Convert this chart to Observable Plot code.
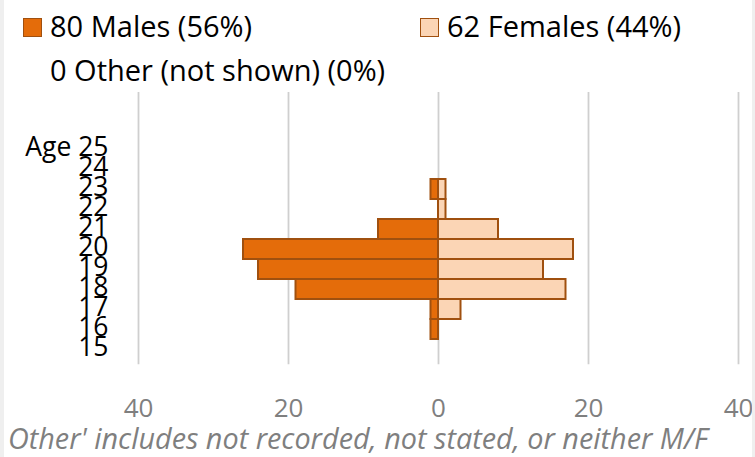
<!DOCTYPE html>
<html>
<head>
<meta charset="utf-8">
<script src="https://cdn.jsdelivr.net/npm/d3@7"></script>
<script src="https://cdn.jsdelivr.net/npm/@observablehq/plot@0.6"></script>
<style>
  html, body { margin: 0; padding: 0; background: #fff; }
  #wrap { position: relative; width: 755px; height: 457px; overflow: hidden; font-family: "Open Sans", sans-serif; }
  #chart { position: absolute; left: 0; top: 0; }
  .lg { position: absolute; font-size: 29px; line-height: 40px; color: #000; white-space: nowrap; }
  .sw { position: absolute; width: 17px; height: 17px; border: 1.5px solid #A0500F; }
  #cap { position: absolute; left: 8px; top: 418px; font-size: 28.8px; line-height: 40px; font-style: italic; color: #7f7f7f; white-space: nowrap; }
  .edge { position: absolute; top: 0; height: 457px; background: #efefef; }
</style>
</head>
<body>
<div id="wrap">
  <div id="chart"></div>
  <div class="edge" style="left:0;width:4px"></div>
  <div class="edge" style="left:752px;width:3px"></div>
  <div class="sw" style="left:23px;top:18px;background:#E46C0A"></div>
  <div class="lg" id="lgM" style="left:50px;top:6px"></div>
  <div class="sw" style="left:420px;top:18px;background:#FBD5B5"></div>
  <div class="lg" id="lgF" style="left:447px;top:6px"></div>
  <div class="lg" id="lgO" style="left:50px;top:50px"></div>
  <div id="cap"></div>
</div>
<script>
// Data
const ages = [25, 24, 23, 22, 21, 20, 19, 18, 17, 16, 15];
const males = [0, 0, 1, 0, 8, 26, 24, 19, 1, 1, 0];
const females = [0, 0, 1, 1, 8, 18, 14, 17, 3, 0, 0];
const xTicks = [-40, -20, 0, 20, 40];
const legendLabels = ["80 Males (56%)", "62 Females (44%)", "0 Other (not shown) (0%)"];
const caption = "Other' includes not recorded, not stated, or neither M/F";

document.getElementById("lgM").textContent = legendLabels[0];
document.getElementById("lgF").textContent = legendLabels[1];
document.getElementById("lgO").textContent = legendLabels[2];
document.getElementById("cap").textContent = caption;

const maleRows = ages.map((a, i) => ({age: a, v: -males[i]})).filter(d => d.v !== 0);
const femaleRows = ages.map((a, i) => ({age: a, v: females[i]})).filter(d => d.v !== 0);

const chart = Plot.plot({
  width: 755,
  height: 457,
  marginLeft: 138,
  marginRight: 17,
  marginTop: 92,
  marginBottom: 92.75,
  style: {fontFamily: "Open Sans, sans-serif", background: "transparent"},
  x: {domain: [-40, 40], range: [138, 738], label: null},
  y: {type: "band", domain: ages, range: [133.8, 364.25], padding: 0, label: null},
  marks: [
    Plot.gridX(xTicks, {stroke: "#cfcfcf", strokeOpacity: 1, strokeWidth: 1.8}),
    Plot.barX(maleRows, {x1: 0, x2: "v", y: "age", fill: "#E46C0A", stroke: "#A0500F", strokeWidth: 2, inset: 0}),
    Plot.barX(femaleRows, {x1: 0, x2: "v", y: "age", fill: "#FBD5B5", stroke: "#A0500F", strokeWidth: 2, inset: 0}),
    Plot.axisY(ages, {tickSize: 0, tickPadding: 30, fontSize: 26.5, color: "#000", dy: -2,
      tickFormat: d => d === 25 ? "Age 25" : String(d)}),
    Plot.axisX(xTicks, {tickSize: 0, tickPadding: 34, fontSize: 26, color: "#7f7f7f",
      tickFormat: d => String(Math.abs(d))})
  ]
});
document.getElementById("chart").appendChild(chart);
</script>
</body>
</html>
